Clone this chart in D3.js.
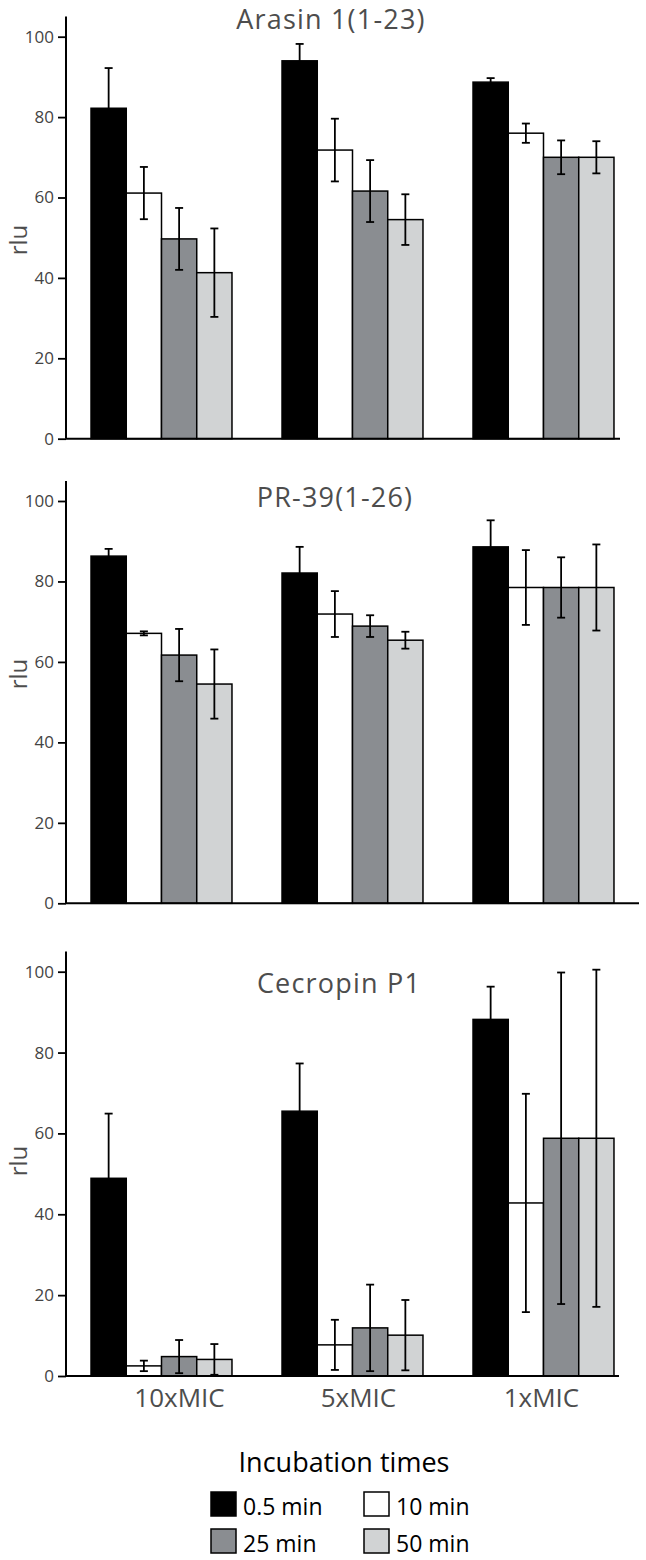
<!DOCTYPE html>
<html>
<head>
<meta charset="utf-8">
<script src="https://cdn.jsdelivr.net/npm/d3@7"></script>
<style>
  body { margin: 0; background: #fff; }
  text { font-family: "Open Sans", sans-serif; }
</style>
</head>
<body>
<svg></svg>
<script>
const width = 646;
const height = 1560;

// Datos
const categorias = ["10xMIC", "5xMIC", "1xMIC"];
const tiempos = ["0.5 min", "10 min", "25 min", "50 min"];
const ticksY = [0, 20, 40, 60, 80, 100];

const arasinMedia = [[82.2, 61.1, 49.7, 41.3], [94.0, 71.8, 61.6, 54.5], [88.7, 76.0, 70.0, 70.0]];
const arasinError = [[10.0, 6.5, 7.7, 11.0], [4.2, 7.8, 7.7, 6.3], [1.0, 2.4, 4.2, 4.0]];

const pr39Media = [[86.3, 67.1, 61.7, 54.5], [82.1, 71.9, 68.9, 65.4], [88.6, 78.5, 78.5, 78.5]];
const pr39Error = [[1.8, 0.5, 6.5, 8.6], [6.5, 5.7, 2.7, 2.1], [6.6, 9.3, 7.5, 10.7]];

const cecropinMedia = [[48.9, 2.5, 4.8, 4.1], [65.5, 7.7, 11.9, 10.1], [88.2, 42.8, 58.8, 58.8]];
const cecropinError = [[16.0, 1.3, 4.1, 3.8], [11.8, 6.2, 10.7, 8.7], [8.1, 27.0, 41.0, 41.7]];

const colores = ["#000000", "#ffffff", "#8a8d91", "#d1d3d4"];

// Paneles (solo layout)
const paneles = [
  { titulo: "Arasin 1(1-23)", media: arasinMedia, error: arasinError, y0: 438.7, y100: 36.7, tituloY: 29, tituloX: 331, xFin: 620, rluY: 240, etiquetas: false },
  { titulo: "PR-39(1-26)", media: pr39Media, error: pr39Error, y0: 903.3, y100: 501, tituloY: 507, tituloX: 335, xFin: 639, rluY: 674, etiquetas: false },
  { titulo: "Cecropin P1", media: cecropinMedia, error: cecropinError, y0: 1376, y100: 971.7, tituloY: 993, tituloX: 339, xFin: 619, rluY: 1161, etiquetas: true }
];
const desplazEtiqueta = [18, 6, -2];

const svg = d3.select("svg").attr("width", width).attr("height", height);

// Escala X (grupos)
const x0 = d3.scaleBand()
  .domain(categorias)
  .range([66, 639])
  .paddingInner(0.262)
  .paddingOuter(0.131);

// Escala X interna (tiempos)
const x1 = d3.scaleBand()
  .domain(tiempos)
  .range([0, x0.bandwidth()])
  .padding(0);

paneles.forEach(p => {
  const y = d3.scaleLinear().domain([0, 100]).range([p.y0, p.y100]);
  const g = svg.append("g");

  // Barras
  categorias.forEach((c, i) => {
    const grupo = g.append("g").attr("transform", `translate(${x0(c)},0)`);
    grupo.selectAll("rect")
      .data(tiempos.map((t, j) => ({ t, v: p.media[i][j], e: p.error[i][j], j })))
      .join("rect")
      .attr("x", d => x1(d.t))
      .attr("y", d => y(d.v))
      .attr("width", x1.bandwidth())
      .attr("height", d => y(0) - y(d.v))
      .attr("fill", d => colores[d.j])
      .attr("stroke", "#000")
      .attr("stroke-width", 1.5);

    // Barras de error
    const eb = grupo.selectAll("g.err")
      .data(tiempos.map((t, j) => ({ t, v: p.media[i][j], e: p.error[i][j] })))
      .join("g")
      .attr("class", "err")
      .attr("transform", d => `translate(${x1(d.t) + x1.bandwidth() / 2},0)`);
    eb.append("line")
      .attr("y1", d => y(d.v + d.e))
      .attr("y2", d => y(Math.max(0, d.v - d.e)))
      .attr("stroke", "#000").attr("stroke-width", 1.8);
    eb.append("line")
      .attr("x1", -4).attr("x2", 4)
      .attr("y1", d => y(d.v + d.e)).attr("y2", d => y(d.v + d.e))
      .attr("stroke", "#000").attr("stroke-width", 1.8);
    eb.append("line")
      .attr("x1", -4).attr("x2", 4)
      .attr("y1", d => y(Math.max(0, d.v - d.e))).attr("y2", d => y(Math.max(0, d.v - d.e)))
      .attr("stroke", "#000").attr("stroke-width", 1.8);
  });

  // Eje Y
  const ejeY = g.append("g")
    .attr("transform", "translate(66,0)")
    .call(d3.axisLeft(y).tickValues(ticksY).tickSize(8).tickPadding(4).tickSizeOuter(0));
  ejeY.select(".domain").remove();
  ejeY.selectAll("line").attr("stroke", "#000").attr("stroke-width", 1.8);
  ejeY.selectAll("text")
    .attr("font-size", 17)
    .attr("fill", "#444")
    .style("font-family", "'Open Sans', sans-serif");
  g.append("line")
    .attr("x1", 66).attr("x2", 66)
    .attr("y1", y(105)).attr("y2", y(0))
    .attr("stroke", "#000").attr("stroke-width", 2);

  // Eje X
  g.append("line")
    .attr("x1", 66).attr("x2", p.xFin)
    .attr("y1", y(0)).attr("y2", y(0))
    .attr("stroke", "#000").attr("stroke-width", 2);

  // Título
  g.append("text")
    .attr("x", p.tituloX).attr("y", p.tituloY)
    .attr("text-anchor", "middle")
    .attr("font-size", 27)
    .attr("letter-spacing", 1.2)
    .attr("fill", "#4d4d4d")
    .text(p.titulo);

  // Etiqueta del eje Y
  g.append("text")
    .attr("transform", `translate(27,${p.rluY}) rotate(-90)`)
    .attr("text-anchor", "middle")
    .attr("font-size", 24)
    .attr("fill", "#4d4d4d")
    .text("rlu");

  if (p.etiquetas) {
    g.selectAll("text.cat")
      .data(categorias)
      .join("text")
      .attr("class", "cat")
      .attr("x", (d, i) => x0(d) + x0.bandwidth() / 2 + desplazEtiqueta[i])
      .attr("y", 1407)
      .attr("text-anchor", "middle")
      .attr("font-size", 26)
      .attr("fill", "#4d4d4d")
      .text(d => d);
  }
});

// Leyenda
svg.append("text")
  .attr("x", 344).attr("y", 1472)
  .attr("text-anchor", "middle")
  .attr("font-size", 27)
  .attr("fill", "#000")
  .text("Incubation times");

const leyenda = svg.append("g");
const posLeyenda = [[211, 1492], [364, 1492], [211, 1529], [364, 1529]];
const items = leyenda.selectAll("g")
  .data(tiempos)
  .join("g")
  .attr("transform", (d, i) => `translate(${posLeyenda[i][0]},${posLeyenda[i][1]})`);
items.append("rect")
  .attr("width", 25).attr("height", 24)
  .attr("fill", (d, i) => colores[i])
  .attr("stroke", "#000").attr("stroke-width", 1.5);
items.append("text")
  .attr("x", 32).attr("y", 23)
  .attr("font-size", 23)
  .attr("fill", "#000")
  .text(d => d);
</script>
</body>
</html>
